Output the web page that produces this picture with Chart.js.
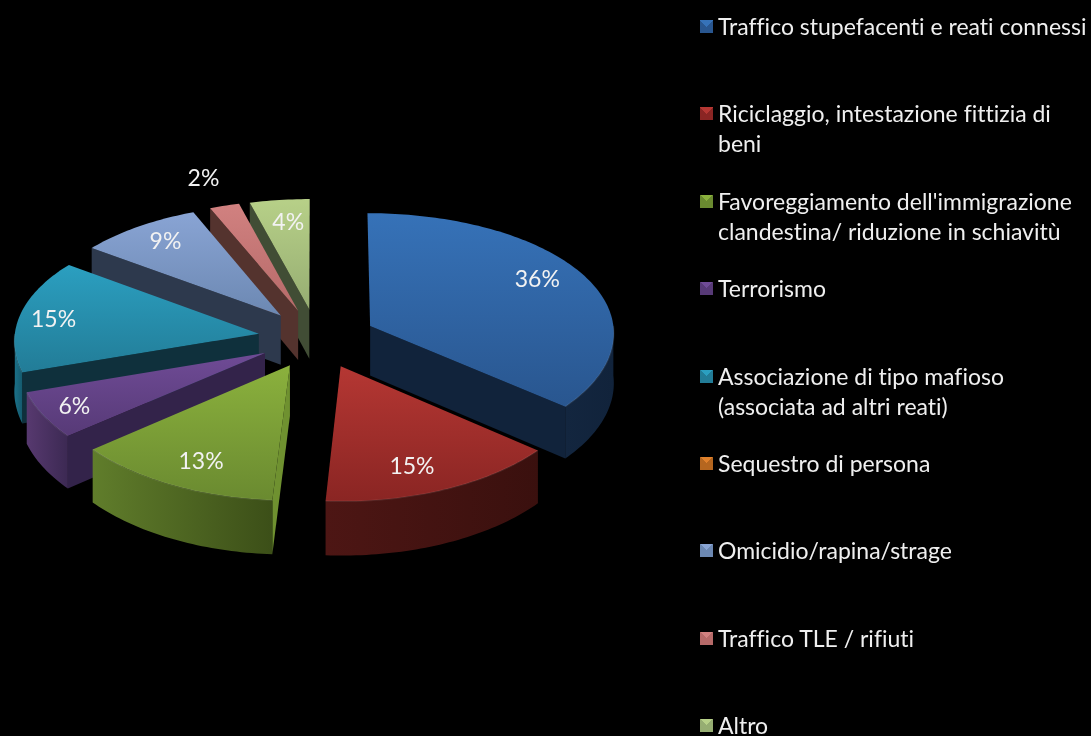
<!DOCTYPE html>
<html lang="it">
<head>
<meta charset="utf-8">
<title>Reati</title>
<script src="https://cdn.jsdelivr.net/npm/chart.js@4"></script>
<style>
  html, body { margin: 0; background: #000; overflow: hidden; }
  #wrap { position: relative; width: 1091px; height: 736px; filter: blur(0.5px); }
  #chart { position: absolute; left: 0; top: 0; }
  .item { position: absolute; left: 718px; width: 373px; color: #efefef; font: 23px/30px Lato, sans-serif; font-variant-ligatures: none; white-space: nowrap; }
  .swatch { position: absolute; left: -18px; top: 9px; width: 13px; height: 13px; }
</style>
</head>
<body>
<div id="wrap">
  <canvas id="chart" width="1091" height="736"></canvas>
  <div id="legend"></div>
</div>
<script>
const categories = [
  ["Traffico stupefacenti e reati connessi"],
  ["Riciclaggio, intestazione fittizia di", "beni"],
  ["Favoreggiamento dell'immigrazione", "clandestina/ riduzione in schiavitù"],
  ["Terrorismo"],
  ["Associazione di tipo mafioso", "(associata ad altri reati)"],
  ["Sequestro di persona"],
  ["Omicidio/rapina/strage"],
  ["Traffico TLE / rifiuti"],
  ["Altro"]
];
const values = [36, 15, 13, 6, 15, 0, 8.7, 2.1, 4.2];

// colours, one per slice
const topLight  = ["#3672b8", "#b53733", "#8bb13d", "#6f4b96", "#2b9fc0", "#e0812c", "#89a4d4", "#d18180", "#b7d088"];
const topDark   = ["#29568f", "#8a2523", "#6a8a30", "#573a77", "#227c97", "#b5661f", "#6c88b2", "#b66a69", "#96ad72"];
const wallColor = ["#11233b", "#3c1110", "#6f9130", "#33234a", "#0f303c", "#5a3210", "#2d394d", "#54332e", "#414d35"];
const rimLeft   = ["#13263f", "#4d1614", "#607d2b", "#57396f", "#1b7189", "#5a3210", "#2d394d", "#54332e", "#414d35"];
const rimRight  = ["#11233b", "#3a100e", "#3c4f18", "#3c2953", "#155a6e", "#5a3210", "#2d394d", "#54332e", "#414d35"];

// nudges for the percent labels
const labelDx = [-5, -11, 5, -14, -14, 0, 0, -14, 3];
const labelDy = [-6, 3, 2, 4, 1, 0, -2, -17, 2];

const tilt = 0.503;
const perspY = 0.069;
const perspX = 0.05;
const depth = 50;
const labelFont = "23px Lato, sans-serif";

function project(arc, u, v, z) {
  const sy = 1 + perspY * v / 245;
  const sx = 1 + perspX * v / 245;
  return {
    x: arc.x + u * sx,
    y: arc.y + v * tilt * sy + z * sy
  };
}

// point of a slice at distance r along angle t (t counted clockwise from the top)
function slicePoint(arc, t, r, z) {
  const mid = (arc.startAngle + arc.endAngle) / 2 + Math.PI / 2;
  const off = arc.options.offset;
  const u = off * Math.sin(mid) + r * Math.sin(t);
  const v = -off * Math.cos(mid) - r * Math.cos(t);
  return project(arc, u, v, z);
}

function tracePoly(ctx, pts) {
  ctx.beginPath();
  pts.forEach((p, i) => {
    if (i === 0) ctx.moveTo(p.x, p.y);
    else ctx.lineTo(p.x, p.y);
  });
  ctx.closePath();
}

function arcPoints(arc, from, to, z) {
  const pts = [];
  const steps = Math.max(2, Math.ceil((to - from) / 0.02));
  for (let i = 0; i <= steps; i++) {
    pts.push(slicePoint(arc, from + (to - from) * i / steps, arc.outerRadius, z));
  }
  return pts;
}

function drawSlice(ctx, arc, i) {
  const a0 = arc.startAngle + Math.PI / 2;
  const a1 = arc.endAngle + Math.PI / 2;
  const r = arc.outerRadius;

  // radial walls that face the viewer
  [[a0, Math.sin(a0) < -0.001], [a1, Math.sin(a1) > 0.001]].forEach(([t, visible]) => {
    if (!visible) return;
    tracePoly(ctx, [
      slicePoint(arc, t, 0, 0),
      slicePoint(arc, t, r, 0),
      slicePoint(arc, t, r, depth),
      slicePoint(arc, t, 0, depth)
    ]);
    ctx.fillStyle = wallColor[i];
    ctx.fill();
  });

  // outer wall, only the part on the front half
  const from = Math.max(a0, Math.PI / 2);
  const to = Math.min(a1, Math.PI * 1.5);
  if (to > from) {
    const upper = arcPoints(arc, from, to, 0);
    const lower = arcPoints(arc, from, to, depth);
    const xs = upper.map(p => p.x);
    const g = ctx.createLinearGradient(Math.min(...xs), 0, Math.max(...xs), 0);
    g.addColorStop(0, rimLeft[i]);
    g.addColorStop(1, rimRight[i]);
    tracePoly(ctx, upper.concat(lower.reverse()));
    ctx.fillStyle = g;
    ctx.fill();
  }

  // top face
  const top = [slicePoint(arc, a0, 0, 0)].concat(arcPoints(arc, a0, a1, 0));
  const ys = top.map(p => p.y);
  const g = ctx.createLinearGradient(0, Math.min(...ys), 0, Math.max(...ys));
  g.addColorStop(0, topLight[i]);
  g.addColorStop(1, topDark[i]);
  tracePoly(ctx, top);
  ctx.fillStyle = g;
  ctx.fill();

  // light bevel along the front edge
  if (to > from) {
    const edge = arcPoints(arc, from, to, 0);
    ctx.beginPath();
    edge.forEach((p, k) => k ? ctx.lineTo(p.x, p.y) : ctx.moveTo(p.x, p.y));
    ctx.strokeStyle = "rgba(255,255,255,0.08)";
    ctx.lineWidth = 1.5;
    ctx.stroke();
  }
}

const pie3d = {
  id: "pie3d",
  beforeDatasetDraw(chart) {
    const ctx = chart.ctx;
    const arcs = chart.getDatasetMeta(0).data;
    const order = arcs
      .map((arc, i) => ({ arc, i }))
      .filter(o => values[o.i] > 0)
      .sort((a, b) => {
        const ma = (a.arc.startAngle + a.arc.endAngle) / 2 + Math.PI / 2;
        const mb = (b.arc.startAngle + b.arc.endAngle) / 2 + Math.PI / 2;
        return Math.cos(mb) - Math.cos(ma);
      });
    order.forEach(o => drawSlice(ctx, o.arc, o.i));

    ctx.fillStyle = "#f2f2f2";
    ctx.font = labelFont;
    ctx.textAlign = "center";
    ctx.textBaseline = "middle";
    order.forEach(o => {
      const mid = (o.arc.startAngle + o.arc.endAngle) / 2 + Math.PI / 2;
      const r = o.arc.outerRadius * (values[o.i] < 3 ? 1.1 : 0.8);
      const p = slicePoint(o.arc, mid, r, 0);
      ctx.fillText(Math.round(values[o.i]) + "%", p.x + labelDx[o.i], p.y + labelDy[o.i]);
    });
    return false;
  }
};

new Chart(document.getElementById("chart"), {
  type: "pie",
  data: {
    labels: categories.map(c => c.join(" ")),
    datasets: [{
      data: values,
      backgroundColor: topLight,
      borderWidth: 0,
      offset: 59
    }]
  },
  options: {
    responsive: false,
    animation: false,
    layout: { padding: { left: 43, right: 500, top: 64, bottom: 123 } },
    plugins: {
      legend: { display: false },
      tooltip: { enabled: false }
    }
  },
  plugins: [pie3d]
});

const legend = document.getElementById("legend");
categories.forEach((lines, i) => {
  const item = document.createElement("div");
  item.className = "item";
  item.style.top = (11 + 87.4 * i) + "px";
  item.innerHTML = lines.join("<br>");
  const sw = document.createElement("span");
  sw.className = "swatch";
  sw.style.background =
    "conic-gradient(from -45deg, " + topLight[i] + " 0 25%, " + topDark[i] + " 25% 50%, " +
    topDark[i] + " 50% 75%, " + topDark[i] + " 75%)";
  item.appendChild(sw);
  legend.appendChild(item);
});
</script>
</body>
</html>
